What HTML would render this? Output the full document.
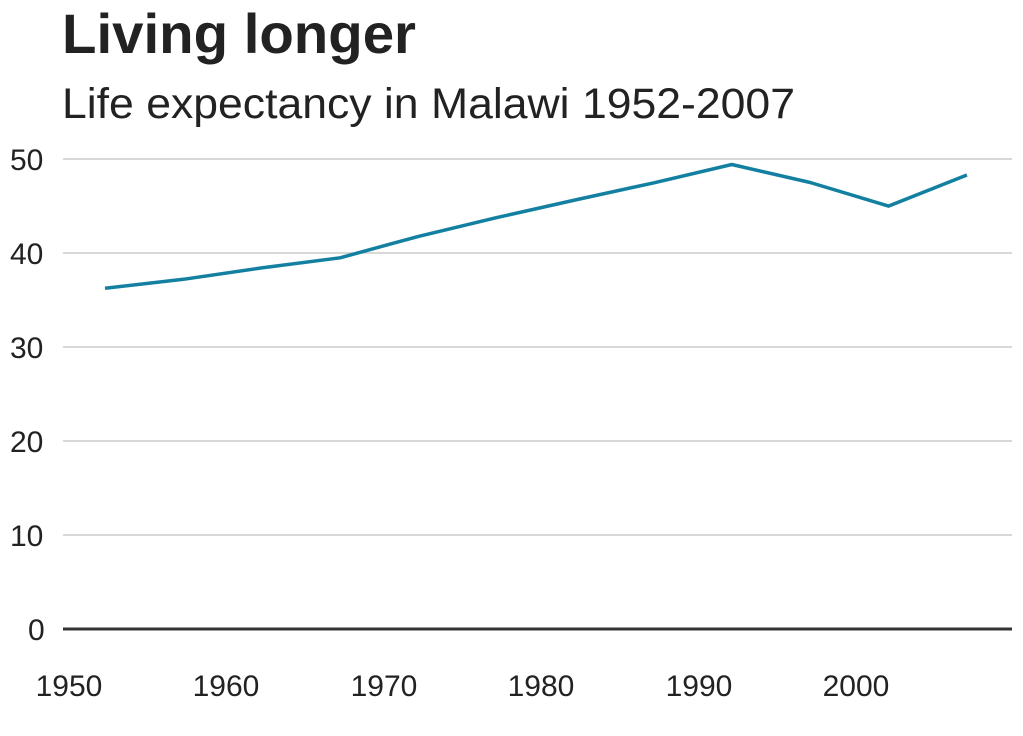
<!DOCTYPE html>
<html><head><meta charset="utf-8"><style>html,body{margin:0;padding:0;background:#fff}</style></head>
<body>
<svg width="1023" height="731" xmlns="http://www.w3.org/2000/svg" font-family="Liberation Sans, Arial, sans-serif">
<rect width="1023" height="731" fill="#fff"/>
<text x="62" y="53" font-size="56" font-weight="bold" fill="#222" textLength="354" lengthAdjust="spacingAndGlyphs">Living longer</text>
<text x="62" y="118" font-size="43" fill="#222" textLength="733" lengthAdjust="spacingAndGlyphs">Life expectancy in Malawi 1952-2007</text>
<g stroke="#cbcbcb" stroke-width="1.5">
<line x1="63" x2="1012" y1="159" y2="159"/>
<line x1="63" x2="1012" y1="253" y2="253"/>
<line x1="63" x2="1012" y1="347" y2="347"/>
<line x1="63" x2="1012" y1="441" y2="441"/>
<line x1="63" x2="1012" y1="535" y2="535"/>
</g>
<line x1="63" x2="1012" y1="629" y2="629" stroke="#333" stroke-width="3"/>
<g font-size="30" fill="#222">
<text x="10" y="170">50</text>
<text x="10" y="264">40</text>
<text x="10" y="358">30</text>
<text x="10" y="452">20</text>
<text x="10" y="546">10</text>
<text x="28" y="640">0</text>
</g>
<g font-size="30" fill="#222" text-anchor="middle">
<text x="69" y="696">1950</text>
<text x="226" y="696">1960</text>
<text x="384" y="696">1970</text>
<text x="541" y="696">1980</text>
<text x="699" y="696">1990</text>
<text x="856" y="696">2000</text>
</g>
<polyline fill="none" stroke="#1380A1" stroke-width="3.5" stroke-linejoin="round"
points="105,288.2 183.4,279.3 261.7,267.9 340.1,257.8 418.4,236.4 496.8,217.6 575.1,200 653.5,182.9 731.8,164.5 810.2,182.5 888.5,206.1 966.9,175"/>
</svg>
</body></html>
